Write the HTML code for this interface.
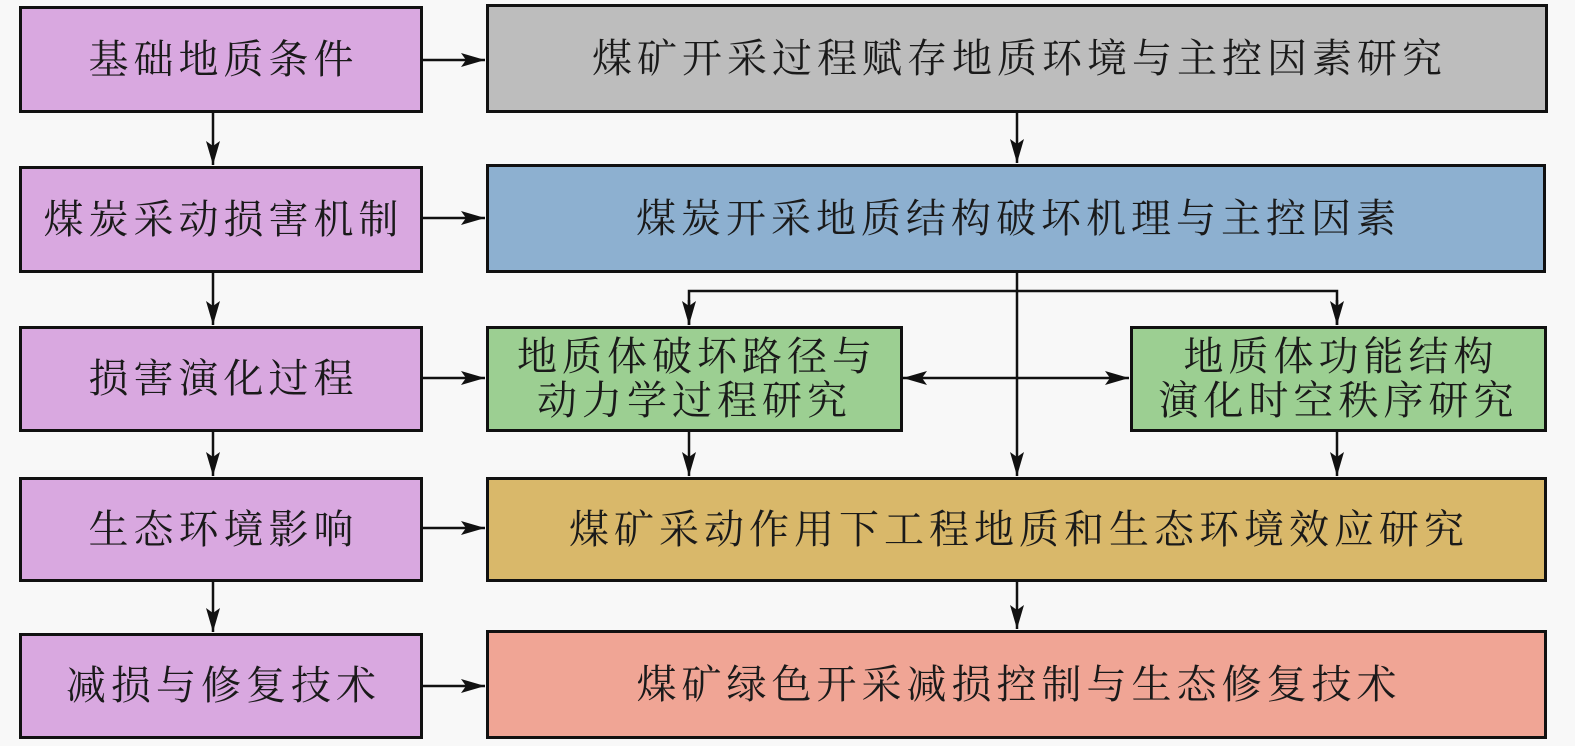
<!DOCTYPE html>
<html><head><meta charset="utf-8"><style>
body{margin:0;width:1575px;height:746px;background:#f8f8f8;overflow:hidden;position:relative;font-family:"Liberation Serif","Noto Serif CJK SC","Noto Sans CJK SC",serif;}
.b{position:absolute;box-sizing:border-box;border:3px solid #111;display:flex;align-items:center;justify-content:center;text-align:center;color:#1a1a1a;font-size:40px;line-height:46px;letter-spacing:5px;text-indent:5px;}
.l{background:#d9a8e0;left:19px;width:404px;}
svg{position:absolute;left:0;top:0;}
</style></head><body>
<div class="b l" style="top:6px;height:107px">基础地质条件</div>
<div class="b l" style="top:166px;height:107px">煤炭采动损害机制</div>
<div class="b l" style="top:326px;height:106px">损害演化过程</div>
<div class="b l" style="top:477px;height:105px">生态环境影响</div>
<div class="b l" style="top:633px;height:106px">减损与修复技术</div>
<div class="b" style="left:486px;top:4px;width:1062px;height:109px;background:#bdbdbd">煤矿开采过程赋存地质环境与主控因素研究</div>
<div class="b" style="left:486px;top:164px;width:1060px;height:109px;background:#8db0d0">煤炭开采地质结构破坏机理与主控因素</div>
<div class="b" style="left:486px;top:326px;width:417px;height:106px;background:#9ccf92;line-height:44px">地质体破坏路径与<br>动力学过程研究</div>
<div class="b" style="left:1130px;top:326px;width:417px;height:106px;background:#9ccf92;line-height:44px">地质体功能结构<br>演化时空秩序研究</div>
<div class="b" style="left:486px;top:477px;width:1061px;height:105px;background:#d9b86a">煤矿采动作用下工程地质和生态环境效应研究</div>
<div class="b" style="left:486px;top:630px;width:1061px;height:109px;background:#f0a595">煤矿绿色开采减损控制与生态修复技术</div>
<svg width="1575" height="746">
<defs>
<marker id="m" viewBox="0 0 24 14" markerWidth="24" markerHeight="14" refX="24" refY="7" orient="auto" markerUnits="userSpaceOnUse"><path d="M0,0L24,7L0,14L5,7Z" fill="#111"/></marker>
<marker id="s" viewBox="0 0 24 14" markerWidth="24" markerHeight="14" refX="0" refY="7" orient="auto" markerUnits="userSpaceOnUse"><path d="M24,0L0,7L24,14L19,7Z" fill="#111"/></marker></defs>
<g stroke="#111" stroke-width="2.5" fill="none">
<line x1="423" y1="60" x2="485" y2="60" marker-end="url(#m)"/>
<line x1="423" y1="218" x2="485" y2="218" marker-end="url(#m)"/>
<line x1="423" y1="378" x2="485" y2="378" marker-end="url(#m)"/>
<line x1="423" y1="528" x2="485" y2="528" marker-end="url(#m)"/>
<line x1="423" y1="686" x2="485" y2="686" marker-end="url(#m)"/>
<line x1="213" y1="113" x2="213" y2="165" marker-end="url(#m)"/>
<line x1="213" y1="273" x2="213" y2="325" marker-end="url(#m)"/>
<line x1="213" y1="432" x2="213" y2="476" marker-end="url(#m)"/>
<line x1="213" y1="582" x2="213" y2="632" marker-end="url(#m)"/>
<line x1="1017" y1="113" x2="1017" y2="163" marker-end="url(#m)"/>
<line x1="1017" y1="273" x2="1017" y2="476" marker-end="url(#m)"/>
<polyline points="689,325 689,291 1337,291 1337,325"/>
<line x1="689" y1="300" x2="689" y2="325" marker-end="url(#m)"/>
<line x1="1337" y1="300" x2="1337" y2="325" marker-end="url(#m)"/>
<line x1="903" y1="378" x2="1129" y2="378" marker-start="url(#s)" marker-end="url(#m)"/>
<line x1="689" y1="432" x2="689" y2="476" marker-end="url(#m)"/>
<line x1="1337" y1="432" x2="1337" y2="476" marker-end="url(#m)"/>
<line x1="1017" y1="582" x2="1017" y2="629" marker-end="url(#m)"/>
</g></svg>
</body></html>
